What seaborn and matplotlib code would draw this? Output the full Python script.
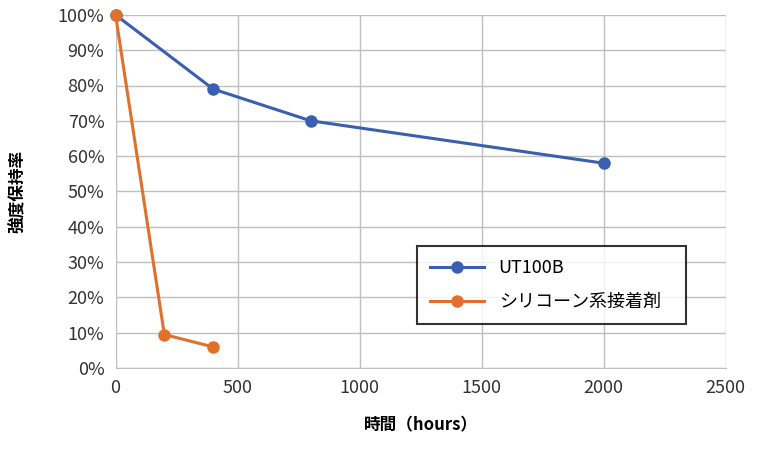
import matplotlib
matplotlib.use("Agg")
import matplotlib.pyplot as plt
import seaborn as sns
import pandas as pd
from matplotlib.ticker import PercentFormatter

ut_hours = [0, 400, 800, 2000]
ut_vals = [100, 79, 70, 58]
si_hours = [0, 200, 400]
si_vals = [100, 9.5, 6]
names = ["UT100B", "シリコーン系接着剤"]

df = pd.concat([
    pd.DataFrame({"h": ut_hours, "v": ut_vals, "s": names[0]}),
    pd.DataFrame({"h": si_hours, "v": si_vals, "s": names[1]}),
])

plt.rcParams["font.family"] = ["Noto Sans CJK JP", "DejaVu Sans"]
fig = plt.figure(figsize=(7.6, 4.5), dpi=100)
ax = fig.add_axes([0.152, 0.182, 0.803, 0.785])
sns.lineplot(data=df, x="h", y="v", hue="s", palette=["#3A5FB0", "#E0702A"],
             marker="o", markersize=9, markeredgewidth=0, linewidth=2.2, ax=ax)
for i, ln in enumerate(ax.lines):
    ln.set_clip_on(False)
    ln.set_zorder(3 + i)
ax.set_xlim(0, 2500)
ax.set_ylim(0, 100)
ax.set_xticks(range(0, 2501, 500))
ax.set_yticks(range(0, 101, 10))
ax.yaxis.set_major_formatter(PercentFormatter(decimals=0))
ax.grid(True, color="#BFBFBF", linewidth=1)
ax.set_axisbelow(True)
for s in ax.spines.values():
    s.set_visible(False)
ax.spines["bottom"].set_visible(True)
ax.spines["bottom"].set_color("#BFBFBF")
ax.tick_params(length=0, labelsize=13, colors="#333333", pad=8)
ax.set_xlabel("時間（hours）", fontsize=12, fontweight="bold", labelpad=14)
ax.set_ylabel("強度保持率", fontsize=12, fontweight="bold", labelpad=22)
leg = ax.legend(loc="lower left", bbox_to_anchor=(0.48, 0.1, 0.47, 0.24), mode="expand",
                fontsize=13, frameon=True, fancybox=False, edgecolor="black",
                handlelength=3, borderpad=0.7, labelspacing=0.9)
leg.get_frame().set_linewidth(1.5)
leg.set_zorder(10)
fig.savefig("out.png", dpi=100)
